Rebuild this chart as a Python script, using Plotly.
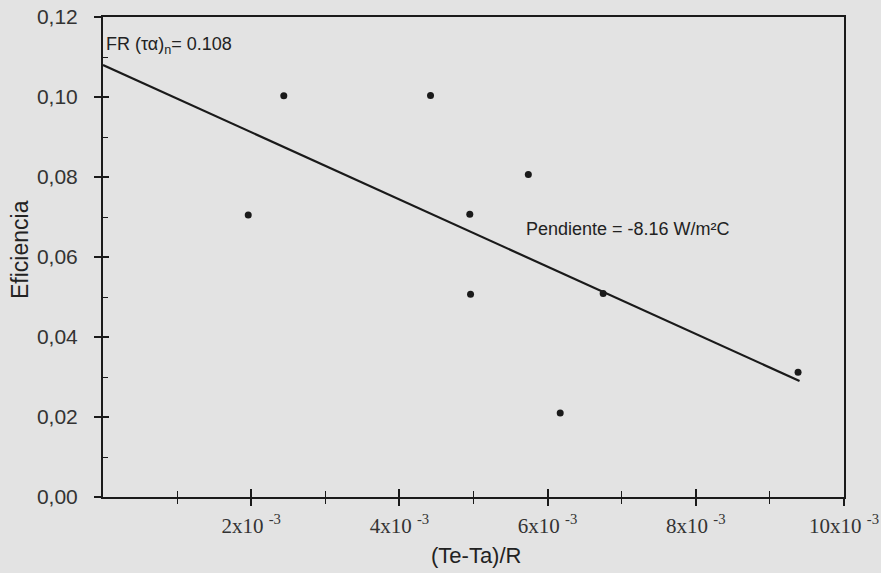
import plotly.graph_objects as go

# Data
x_pts = [0.00196, 0.00244, 0.00442, 0.00495, 0.00496, 0.00574, 0.00617, 0.00675, 0.00938]
y_pts = [0.0705, 0.1003, 0.1004, 0.0707, 0.0507, 0.0806, 0.0210, 0.0509, 0.0312]

fit_x = [0.0, 0.0094]
fit_y = [0.108, 0.0290]

x_tickvals = [0.002, 0.004, 0.006, 0.008, 0.010]
x_ticktext = ["2x10 <sup>-3</sup>", "4x10 <sup>-3</sup>", "6x10 <sup>-3</sup>",
              "8x10 <sup>-3</sup>", "10x10 <sup>-3</sup>"]
y_tickvals = [0.00, 0.02, 0.04, 0.06, 0.08, 0.10, 0.12]
y_ticktext = ["0,00", "0,02", "0,04", "0,06", "0,08", "0,10", "0,12"]

x_range = [0, 0.010]
y_range = [0, 0.12]

BG = "#e3e3e3"
INK = "#1a1a1a"

fig = go.Figure()
fig.add_trace(go.Scatter(x=fit_x, y=fit_y, mode="lines",
                         line=dict(color=INK, width=2.2), showlegend=False,
                         hoverinfo="skip"))
fig.add_trace(go.Scatter(x=x_pts, y=y_pts, mode="markers", xaxis="x2", yaxis="y2",
                         marker=dict(color=INK, size=7, symbol="circle"),
                         showlegend=False))

sans = "Liberation Sans, Arial, sans-serif"
serif = "Liberation Serif, Times New Roman, serif"

L, R, T, B = 103, 37, 17, 76
W, H = 881, 573

fig.update_layout(
    width=W, height=H,
    margin=dict(l=L, r=R, t=T, b=B, autoexpand=False),
    paper_bgcolor=BG, plot_bgcolor=BG,
    xaxis=dict(range=x_range, tickvals=x_tickvals, ticktext=x_ticktext,
               ticks="outside", ticklen=7, tickwidth=1.5, tickcolor=INK,
               minor=dict(tickvals=[0.001, 0.003, 0.005, 0.007, 0.009],
                          ticks="outside", ticklen=5, tickwidth=1.2, tickcolor=INK),
               showline=True, linecolor=INK, linewidth=2, mirror=True,
               showgrid=False, zeroline=False, automargin=False,
               tickfont=dict(family=serif, size=21, color="#333"),
               ticklabelstandoff=2),
    yaxis=dict(range=y_range, tickvals=y_tickvals, ticktext=y_ticktext,
               ticks="outside", ticklen=7, tickwidth=1.5, tickcolor=INK,
               showline=True, linecolor=INK, linewidth=2, mirror=True,
               showgrid=False, zeroline=False, automargin=False,
               tickfont=dict(family=sans, size=21, color="#333"),
               ticklabelstandoff=12),
    xaxis2=dict(range=x_range, overlaying="x", anchor="y2", side="bottom",
                tickvals=x_tickvals, ticks="inside", ticklen=8, tickwidth=1.5,
                tickcolor=INK, showticklabels=False, showgrid=False, zeroline=False,
                showline=False, automargin=False,
                minor=dict(tickvals=[0.001, 0.003, 0.005, 0.007, 0.009],
                           ticks="inside", ticklen=6, tickwidth=1.2, tickcolor=INK)),
    yaxis2=dict(range=y_range, overlaying="y", anchor="x2", side="left",
                tickvals=y_tickvals, ticks="inside", ticklen=6, tickwidth=1.5,
                tickcolor=INK, showticklabels=False, showgrid=False, zeroline=False,
                showline=False, automargin=False,
                minor=dict(tickvals=[0.01, 0.03, 0.05, 0.07, 0.09, 0.11],
                           ticks="inside", ticklen=5, tickwidth=1.2, tickcolor=INK)),
    annotations=[
        dict(text="FR (τα)<sub>n</sub>= 0.108", x=0.00002, y=0.1128,
             xref="x", yref="y", xanchor="left", yanchor="middle", showarrow=False,
             font=dict(family=sans, size=18, color="#222")),
        dict(text="Pendiente = -8.16 W/m²C", x=0.00568, y=0.0670,
             xref="x", yref="y", xanchor="left", yanchor="middle", showarrow=False,
             font=dict(family=sans, size=18, color="#222")),
        dict(text="Eficiencia", x=(20 - L) / (W - L - R), y=(H - B - 250) / (H - T - B),
             xref="paper", yref="paper", xanchor="center", yanchor="middle",
             showarrow=False, textangle=-90,
             font=dict(family=sans, size=23, color="#222")),
        dict(text="(Te-Ta)/R", x=(476 - L) / (W - L - R), y=(H - B - 555) / (H - T - B),
             xref="paper", yref="paper", xanchor="center", yanchor="middle",
             showarrow=False,
             font=dict(family=sans, size=22, color="#222")),
    ],
)

fig.write_html("out.html")
